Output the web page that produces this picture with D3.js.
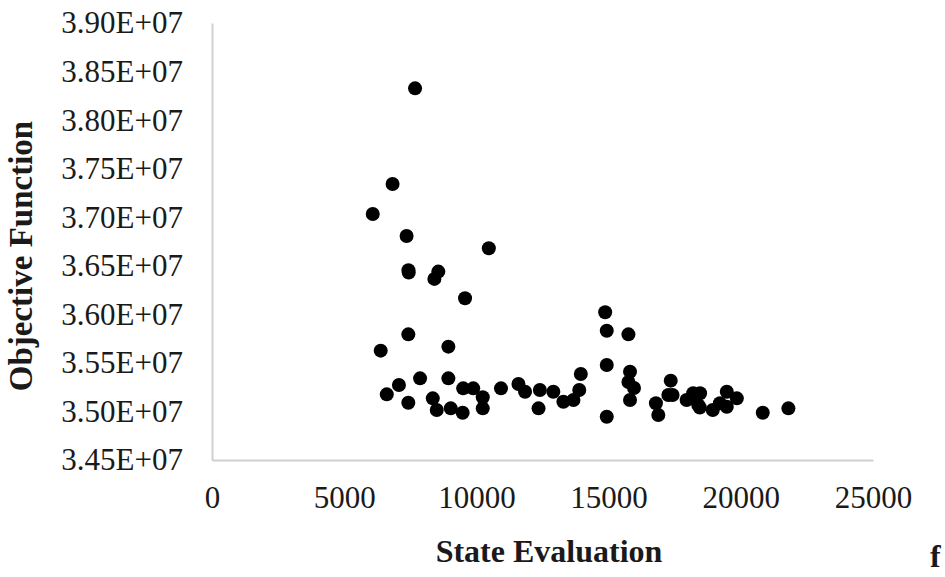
<!DOCTYPE html>
<html><head><meta charset="utf-8">
<script src="https://cdn.jsdelivr.net/npm/d3@7"></script>
<style>
html,body{margin:0;padding:0;background:#fff;}
svg{display:block;}
</style></head>
<body>
<svg id="chart" width="945" height="577"></svg>
<script>
const xValues = [7680,6830,6080,7360,10470,7430,7440,8560,8410,9570,7425,6380,8940,7870,8940,7070,6610,7425,8350,8500,9030,9480,9500,9880,10240,10240,10930,11590,11840,12400,12350,12910,13290,13670,13890,13950,14870,14930,14930,14930,15750,15810,15750,15960,15810,16790,16880,17350,17260,17420,17950,18200,18460,18390,18270,18450,18940,19210,19470,19470,19850,20830,21800];
const yValues = [3.8327e7,3.7342e7,3.7033e7,3.6807e7,3.6680e7,3.6455e7,3.6430e7,3.6440e7,3.6365e7,3.6165e7,3.5794e7,3.5626e7,3.5667e7,3.5341e7,3.5341e7,3.5272e7,3.5176e7,3.5090e7,3.5135e7,3.5015e7,3.5032e7,3.4987e7,3.5238e7,3.5238e7,3.5146e7,3.5032e7,3.5238e7,3.5283e7,3.5203e7,3.5221e7,3.5032e7,3.5203e7,3.5100e7,3.5118e7,3.5221e7,3.5386e7,3.6021e7,3.5831e7,3.5478e7,3.4946e7,3.5794e7,3.5409e7,3.5303e7,3.5241e7,3.5118e7,3.5084e7,3.4963e7,3.5317e7,3.5169e7,3.5169e7,3.5118e7,3.5187e7,3.5187e7,3.5066e7,3.5135e7,3.5040e7,3.5015e7,3.5084e7,3.5203e7,3.5049e7,3.5135e7,3.4987e7,3.5032e7];
const xTicks = [0,5000,10000,15000,20000,25000];
const yTicks = [3.45e7,3.50e7,3.55e7,3.60e7,3.65e7,3.70e7,3.75e7,3.80e7,3.85e7,3.90e7];
const xTitle = "State Evaluation";
const yTitle = "Objective Function";
const cornerLabel = "f";

(function(){
const svg = d3.select("#chart");
const mLeft = 212, mRight = 873, mTop = 23, mBottom = 460;
const x = d3.scaleLinear().domain([0,25000]).range([mLeft,mRight]);
const y = d3.scaleLinear().domain([3.45e7,3.90e7]).range([mBottom,mTop]);
const font = "'Liberation Serif','Times New Roman',serif";

const xAxis = svg.append("g").attr("transform",`translate(0,${mBottom})`)
  .call(d3.axisBottom(x).tickValues(xTicks).tickSize(0).tickPadding(26).tickFormat(d3.format("d")));
const yAxis = svg.append("g").attr("transform",`translate(${mLeft},0)`)
  .call(d3.axisLeft(y).tickValues(yTicks).tickSize(0).tickPadding(29)
    .tickFormat(d => (d/1e7).toFixed(2)+"E+07"));
[xAxis,yAxis].forEach(g=>{
  g.select(".domain").attr("stroke","#d0d0d0").attr("stroke-width",2);
  g.selectAll("text").attr("font-family",font).attr("font-size",31).attr("fill","#1a1a1a");
});

svg.append("g").selectAll("circle").data(xValues.map((v,i)=>[v,yValues[i]]))
  .join("circle").attr("cx",d=>x(d[0])).attr("cy",d=>y(d[1])).attr("r",7).attr("fill","#000");

svg.append("text").attr("x",549).attr("y",562).attr("text-anchor","middle")
  .attr("font-family",font).attr("font-weight","bold").attr("font-size",32).attr("fill","#1a1a1a").text(xTitle);
svg.append("text").attr("transform","translate(32,256) rotate(-90)").attr("text-anchor","middle")
  .attr("font-family",font).attr("font-weight","bold").attr("font-size",33).attr("fill","#1a1a1a").text(yTitle);
svg.append("text").attr("x",930).attr("y",567)
  .attr("font-family",font).attr("font-weight","bold").attr("font-size",32).attr("fill","#1a1a1a").text(cornerLabel);
})();
</script>
</body></html>
